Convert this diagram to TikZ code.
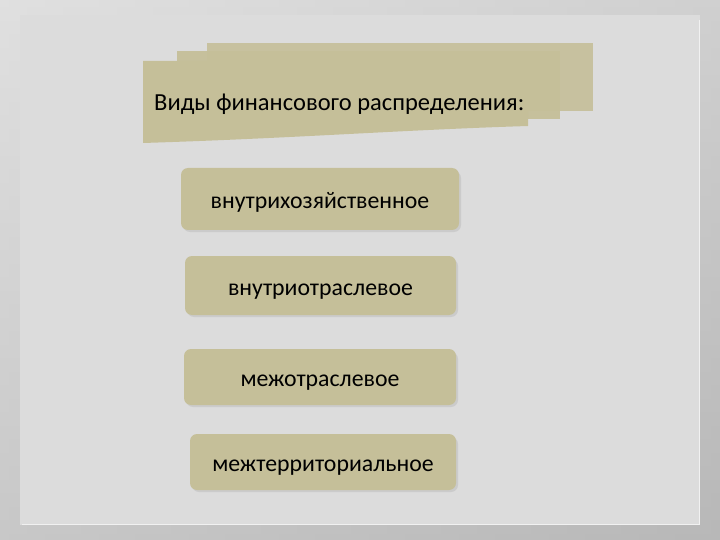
\documentclass[tikz,border=0pt]{standalone}
\usepackage{fontspec}
\setmainfont{Carlito}
\definecolor{paper}{HTML}{C5BF99}
\definecolor{panel}{HTML}{DCDCDC}
\definecolor{outerA}{HTML}{E0E0E0}
\definecolor{outerB}{HTML}{B8B8B8}
\begin{document}
\begin{tikzpicture}[x=1pt,y=-1pt,
  itembox/.style={fill=paper, rounded corners=7pt, font=\fontsize{23.8}{26}\selectfont, text=black, inner sep=0pt, text height=20pt, text depth=1pt},
  boxshadow/.style={fill=gray, opacity=0.18, rounded corners=7pt},
  layer/.style={fill=paper}]
\useasboundingbox (0,0) rectangle (720,540);
% outer gradient background
\shade[top color=outerA, bottom color=outerB] (0,0) rectangle (720,540);
\shade[left color=outerA, right color=outerB, opacity=0.4] (0,0) rectangle (720,540);
% inner panel
\fill[panel] (20,15) rectangle (700,525);
\draw[white, opacity=0.6, line width=0.8pt] (699,20) -- (699,524) -- (22,524);
% title layers
\fill[layer, opacity=0.9] (207,43) -- (593,43) -- (593,111) -- (207,111) -- cycle;
\fill[layer, opacity=0.95] (177,51) -- (560,51) -- (560,119) -- (177,119) -- cycle;
\fill[layer] (143,61) -- (528,61) -- (528,126) .. controls (400,130) and (300,138) .. (143,143) -- cycle;
\node[anchor=west, font=\fontsize{24.5}{28}\selectfont, text=black, inner sep=0pt] (title) at (154,104) {Виды финансового распределения:};
% items
\fill[boxshadow] (183,171) rectangle (461,232);
\node[itembox, minimum width=278pt, minimum height=62pt] (b1) at (320,199) {внутрихозяйственное};
\fill[boxshadow] (187,259) rectangle (458,317);
\node[itembox, minimum width=271pt, minimum height=59pt] (b2) at (320.5,285.5) {внутриотраслевое};
\fill[boxshadow] (186,352) rectangle (458,407);
\node[itembox, minimum width=272pt, minimum height=56pt] (b3) at (320,377) {межотраслевое};
\fill[boxshadow] (192,437) rectangle (458,492);
\node[itembox, minimum width=266pt, minimum height=56pt] (b4) at (323,462) {межтерриториальное};
\end{tikzpicture}
\end{document}
